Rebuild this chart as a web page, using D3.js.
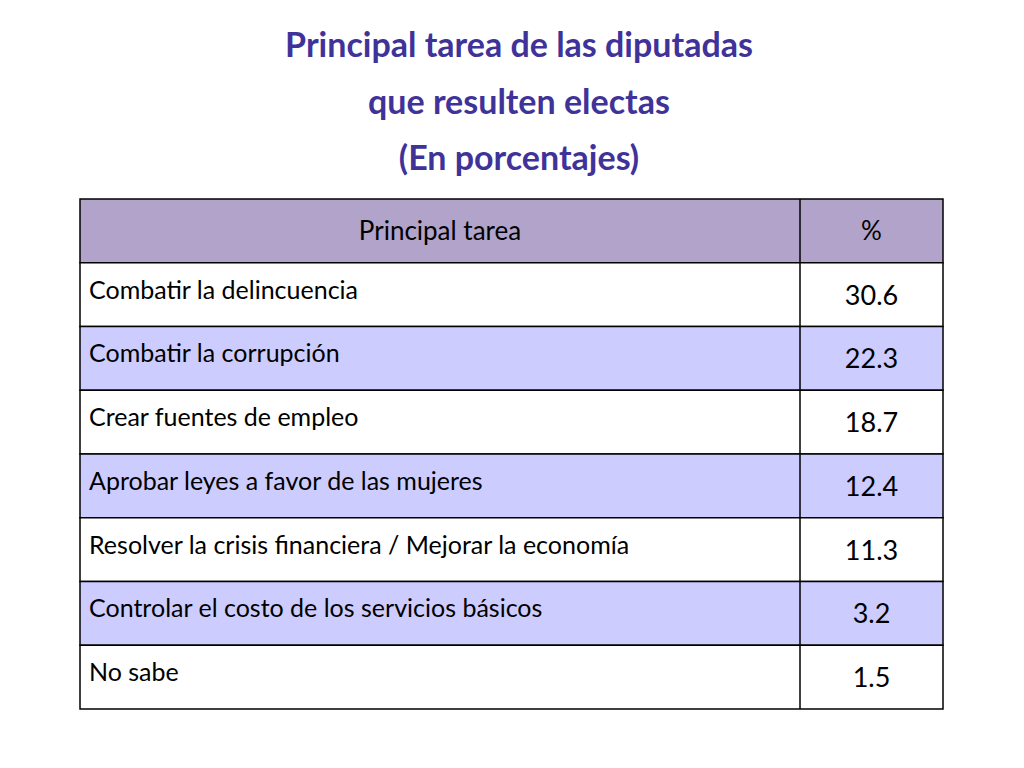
<!DOCTYPE html>
<html>
<head>
<script src="https://d3js.org/d3.v7.min.js"></script>
<style>
  body { margin: 0; background: white; }
  svg { display: block; }
</style>
</head>
<body>
<svg width="1024" height="768"></svg>
<script>
const titleLines = ["Principal tarea de las diputadas", "que resulten electas", "(En porcentajes)"];
const headers = ["Principal tarea", "%"];
const tasks = [
  "Combatir la delincuencia",
  "Combatir la corrupción",
  "Crear fuentes de empleo",
  "Aprobar leyes a favor de las mujeres",
  "Resolver la crisis financiera / Mejorar la economía",
  "Controlar el costo de los servicios básicos",
  "No sabe"
];
const values = [30.6, 22.3, 18.7, 12.4, 11.3, 3.2, 1.5];

const svg = d3.select("svg");
const font = "Lato, 'Open Sans', sans-serif";

// titulo
svg.append("g").selectAll("text")
  .data(titleLines)
  .join("text")
  .attr("x", 519)
  .attr("y", (d, i) => 57 + i * 56.5)
  .attr("text-anchor", "middle")
  .attr("font-family", font)
  .attr("font-weight", "bold")
  .attr("font-size", 34)
  .attr("fill", "#3f3399")
  .text(d => d);

// tabla
const tblLeft = 80, tblRight = 943, split = 800, tblTop = 199;
const y = d3.scaleBand()
  .domain(d3.range(tasks.length + 1))
  .range([tblTop, 709]);

const rows = svg.append("g").selectAll("g")
  .data(d3.range(tasks.length + 1))
  .join("g")
  .attr("transform", i => `translate(0,${y(i)})`);

rows.append("rect")
  .attr("x", tblLeft)
  .attr("width", tblRight - tblLeft)
  .attr("height", y.bandwidth())
  .attr("fill", i => i === 0 ? "#b1a3c9" : (i % 2 === 0 ? "#ccccff" : "#ffffff"))
  .attr("stroke", "#000")
  .attr("stroke-width", 1.5);

rows.append("line")
  .attr("x1", split).attr("x2", split)
  .attr("y1", 0).attr("y2", y.bandwidth())
  .attr("stroke", "#000").attr("stroke-width", 1.5);

// encabezado
rows.filter(i => i === 0).each(function() {
  const g = d3.select(this);
  g.append("text")
    .attr("x", (tblLeft + split) / 2).attr("y", y.bandwidth() / 2 + 9)
    .attr("text-anchor", "middle")
    .attr("font-family", font).attr("font-size", 26)
    .text(headers[0]);
  g.append("text")
    .attr("x", (split + tblRight) / 2).attr("y", y.bandwidth() / 2 + 9)
    .attr("text-anchor", "middle")
    .attr("font-family", font).attr("font-size", 26)
    .text(headers[1]);
});

const body = rows.filter(i => i > 0);
body.append("text")
  .attr("x", 89).attr("y", y.bandwidth() / 2 + 4)
  .attr("font-family", font).attr("font-size", 25)
  .text(i => tasks[i - 1]);
body.append("text")
  .attr("x", (split + tblRight) / 2).attr("y", y.bandwidth() / 2 + 10)
  .attr("text-anchor", "middle")
  .attr("font-family", font).attr("font-size", 27)
  .text(i => values[i - 1].toFixed(1));
</script>
</body>
</html>
